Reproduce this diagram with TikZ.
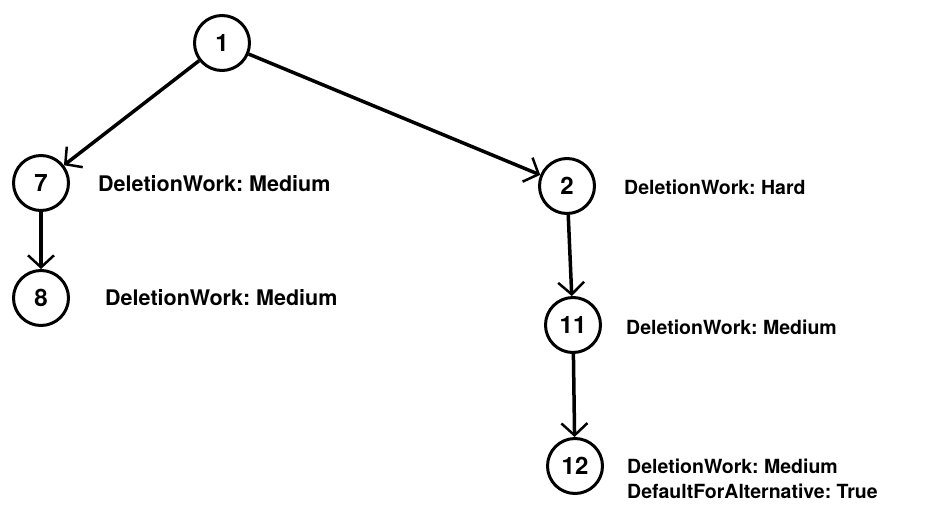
\documentclass[tikz,border=0pt]{standalone}
\usepackage{fontspec}
\setmainfont{TeX Gyre Heros}
\usetikzlibrary{arrows.meta}
\frenchspacing
\begin{document}
\begin{tikzpicture}[x=1pt,y=-1pt,
  state/.style={circle,draw,line width=3pt,minimum size=55pt,inner sep=0pt,
    font=\fontsize{24}{26}\selectfont\bfseries},
  attr/.style={anchor=west,inner sep=0pt,align=left,
    font=\fontsize{19.5}{25.5}\selectfont\bfseries},
  attrL/.style={attr,font=\fontsize{21.5}{25}\selectfont\bfseries},
  link/.style={line width=3.5pt,-{Straight Barb[length=12pt,width=26pt,line width=2.5pt]}}]
\useasboundingbox (0,0) rectangle (935,512);
\node[state] (n1)  at (222,43)  {1};
\node[state] (n7)  at (41,183)  {7};
\node[state] (n8)  at (41,298)  {8};
\node[state] (n2)  at (567,186) {2};
\node[state] (n11) at (573,325) {11};
\node[state] (n12) at (575,466) {12};

\node[attrL] (a7)  at (98,184)  {\frenchspacing DeletionWork: Medium};
\node[attrL] (a8)  at (105,298) {\frenchspacing DeletionWork: Medium};
\node[attr]  (a2)  at (624,187) {\frenchspacing DeletionWork: Hard};
\node[attr]  (a11) at (626,327) {\frenchspacing DeletionWork: Medium};
\node[attr]  (a12) at (627,479) {\frenchspacing DeletionWork: Medium\\DefaultForAlternative: True};

\draw[link] (n1) -- (n7);
\draw[link] (n1) -- (n2);
\draw[link] (n7) -- (n8);
\draw[link] (n2) -- (n11);
\draw[link] (n11) -- (n12);
\end{tikzpicture}
\end{document}
